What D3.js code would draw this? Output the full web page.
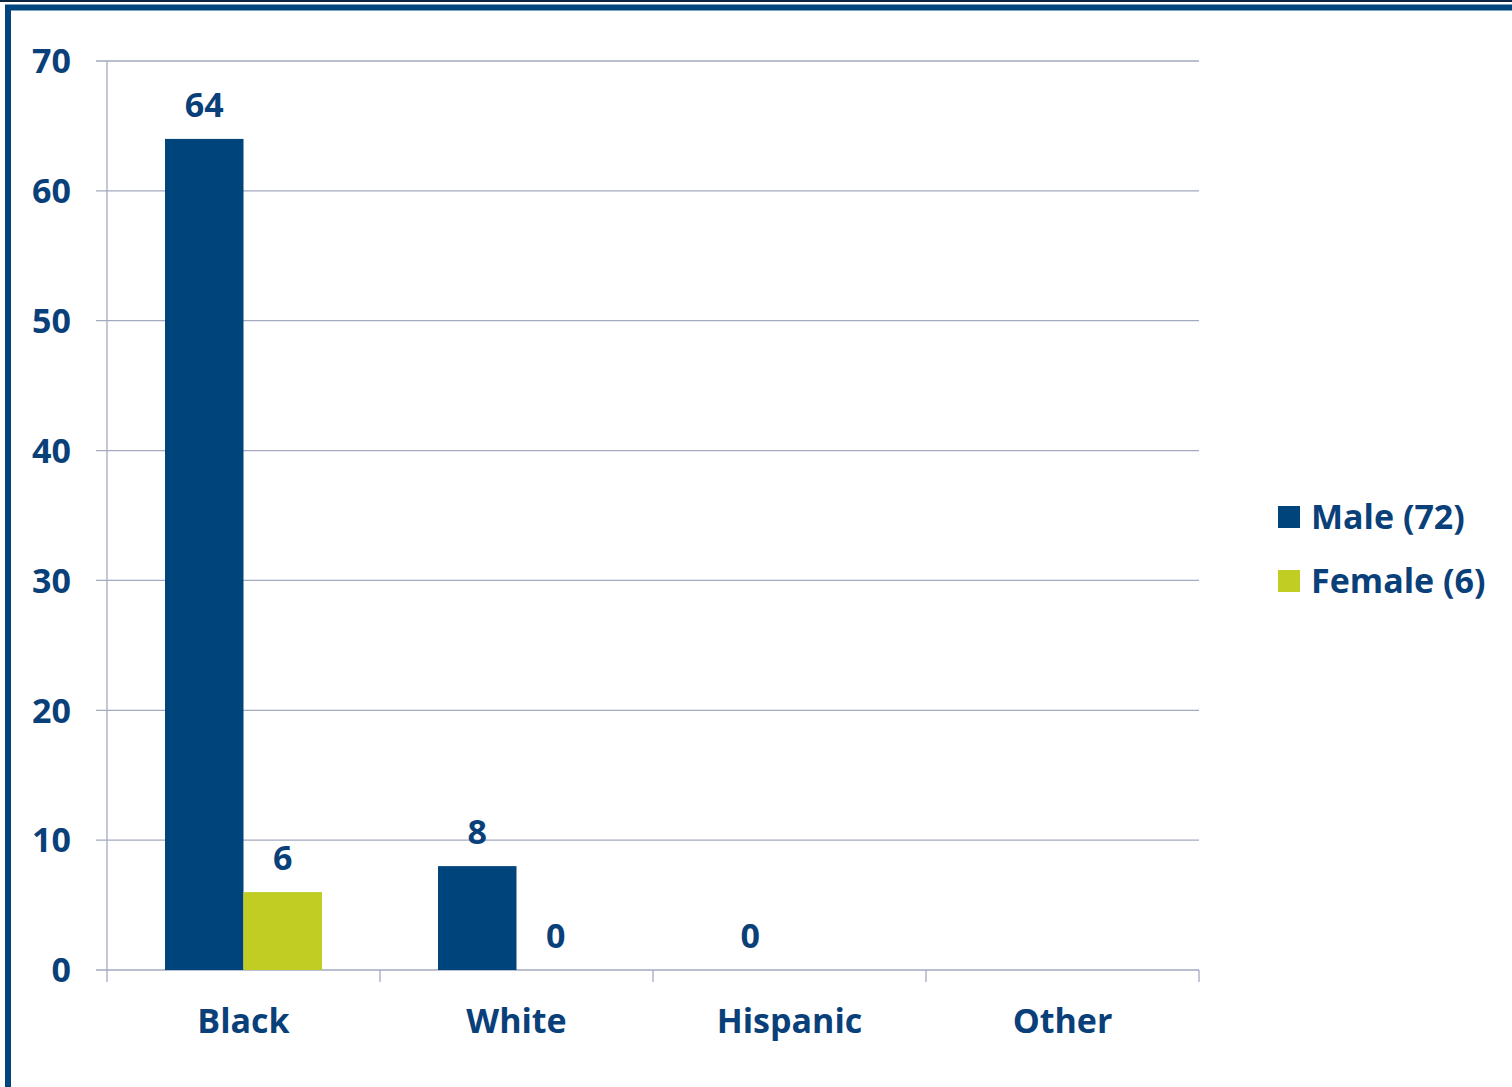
<!DOCTYPE html>
<html>
<head>
<meta charset="utf-8">
<script src="https://cdn.jsdelivr.net/npm/d3@7"></script>
<style>
  html, body { margin: 0; padding: 0; background: #fff; }
  svg { display: block; }
  text { font-family: "Open Sans", "DejaVu Sans", sans-serif; font-weight: 700; fill: #0a4079; }
</style>
</head>
<body>
<svg id="chart" width="1512" height="1087"></svg>
<script>
const categories = ["Black", "White", "Hispanic", "Other"];
const seriesNames = ["Male (72)", "Female (6)"];
const maleValues = [64, 8, 0, null];
const femaleValues = [6, 0, null, null];
const yTicks = [0, 10, 20, 30, 40, 50, 60, 70];
const seriesColors = ["#00447c", "#c1cd23"];

(function () {
const svg = d3.select("#chart");
const W = 1512, H = 1087;

// frame
svg.append("rect").attr("x", 0).attr("y", 0).attr("width", W).attr("height", 2).attr("fill", "#0d2540");
svg.append("rect").attr("x", 8).attr("y", 7.5).attr("width", W - 8 + 10).attr("height", H + 20)
  .attr("fill", "none").attr("stroke", "#00457d").attr("stroke-width", 6);

const pL = 107, pR = 1199, pT = 61, pB = 970;

const x0 = d3.scaleBand().domain(categories).range([pL, pR]).paddingInner(0).paddingOuter(0);
const x1 = d3.scaleBand().domain(seriesNames).range([0, x0.bandwidth()]).paddingInner(0).paddingOuter(0.739);
const y = d3.scaleLinear().domain([0, 70]).range([pB, pT]);

const gridColor = "#a3aac0";

svg.append("g").selectAll("line").data(yTicks).join("line")
  .attr("x1", 96).attr("x2", pR)
  .attr("y1", d => y(d)).attr("y2", d => y(d))
  .attr("stroke", gridColor).attr("stroke-width", 1.3);

svg.append("line").attr("x1", pL).attr("x2", pL).attr("y1", pT).attr("y2", pB + 12)
  .attr("stroke", gridColor).attr("stroke-width", 1.3);

const catEdges = categories.map(c => x0(c)).concat([pR]);
svg.append("g").selectAll("line").data(catEdges.slice(1)).join("line")
  .attr("x1", d => d).attr("x2", d => d).attr("y1", pB).attr("y2", pB + 12)
  .attr("stroke", gridColor).attr("stroke-width", 1.3);

svg.append("g").selectAll("text").data(yTicks).join("text")
  .attr("x", 71).attr("y", d => y(d)).attr("dy", "0.36em")
  .attr("text-anchor", "end").attr("font-size", 34)
  .text(d => d);

svg.append("g").selectAll("text").data(categories).join("text")
  .attr("x", d => x0(d) + x0.bandwidth() / 2).attr("y", 1033)
  .attr("text-anchor", "middle").attr("font-size", 34)
  .text(d => d);

const seriesValues = [maleValues, femaleValues];
const barData = [];
categories.forEach((c, i) => {
  seriesNames.forEach((s, j) => {
    const v = seriesValues[j][i];
    if (v !== null) barData.push({ c, s, v, j });
  });
});

svg.append("g").selectAll("rect").data(barData.filter(d => d.v > 0)).join("rect")
  .attr("x", d => x0(d.c) + x1(d.s))
  .attr("width", x1.bandwidth())
  .attr("y", d => y(d.v))
  .attr("height", d => y(0) - y(d.v))
  .attr("fill", d => seriesColors[d.j]);

svg.append("g").selectAll("text").data(barData).join("text")
  .attr("x", d => x0(d.c) + x1(d.s) + x1.bandwidth() / 2)
  .attr("y", d => y(d.v) - 22)
  .attr("text-anchor", "middle").attr("font-size", 34)
  .text(d => d.v);

const legend = svg.append("g");
seriesNames.forEach((s, j) => {
  const ly = 506 + j * 64;
  legend.append("rect").attr("x", 1278).attr("y", ly).attr("width", 22).attr("height", 22)
    .attr("fill", seriesColors[j]);
  legend.append("text").attr("x", 1311).attr("y", ly + 11).attr("dy", "0.36em")
    .attr("font-size", 34).text(s);
});
})();
</script>
</body>
</html>
